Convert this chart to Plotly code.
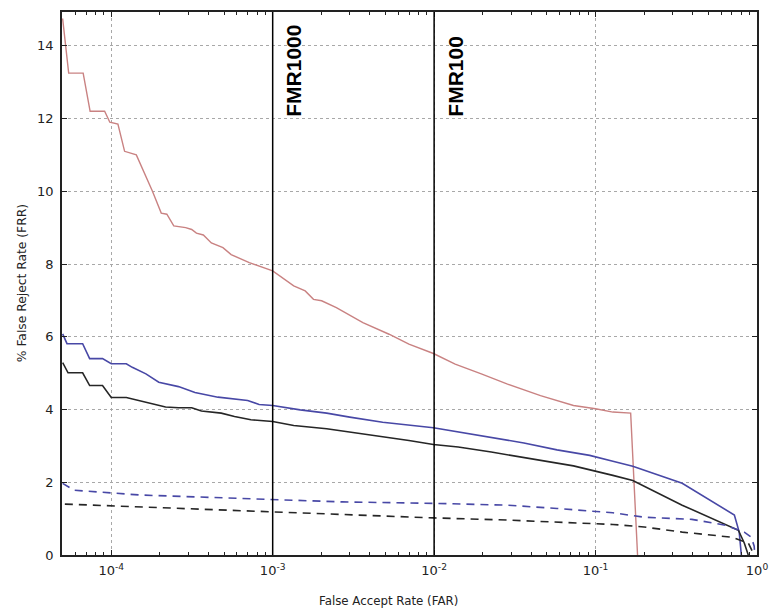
import math
import plotly.graph_objects as go

# ---- data ----
red_far = [5.0e-5, 5.45e-5, 6.7e-5, 7.4e-5, 9.1e-5, 9.8e-5, 1.1e-4, 1.21e-4, 1.43e-4, 1.8e-4,
           2.04e-4, 2.21e-4, 2.44e-4, 2.89e-4, 3.15e-4, 3.37e-4, 3.72e-4, 4.17e-4, 4.92e-4, 5.53e-4,
           7.16e-4, 1.0e-3, 1.35e-3, 1.59e-3, 1.79e-3, 2.01e-3, 2.48e-3, 3.62e-3, 5.26e-3, 6.98e-3,
           9.9e-3, 1.35e-2, 1.96e-2, 2.85e-2, 4.56e-2, 7.3e-2, 0.1, 0.128, 0.165, 0.182]
red_frr = [14.75, 13.25, 13.25, 12.2, 12.2, 11.9, 11.85, 11.1, 11.0, 10.0,
           9.4, 9.37, 9.05, 9.0, 8.95, 8.85, 8.8, 8.58, 8.45, 8.26,
           8.04, 7.81, 7.40, 7.26, 7.03, 6.99, 6.80, 6.39, 6.07, 5.80,
           5.54, 5.25, 4.98, 4.70, 4.38, 4.11, 4.02, 3.93, 3.90, 0.0]

blue_far = [5.0e-5, 5.32e-5, 6.65e-5, 7.35e-5, 8.83e-5, 1.0e-4, 1.24e-4, 1.35e-4, 1.64e-4, 1.97e-4,
            2.61e-4, 3.3e-4, 4.58e-4, 7.0e-4, 8.24e-4, 1.0e-3, 1.48e-3, 2.16e-3, 3.0e-3, 4.8e-3,
            9.9e-3, 1.79e-2, 3.6e-2, 5.77e-2, 9.2e-2, 0.128, 0.17, 0.344, 0.724, 0.776, 0.8]
blue_frr = [6.08, 5.81, 5.81, 5.40, 5.40, 5.26, 5.26, 5.16, 4.98, 4.75,
            4.63, 4.47, 4.34, 4.25, 4.14, 4.11, 3.99, 3.90, 3.79, 3.65,
            3.50, 3.31, 3.08, 2.89, 2.74, 2.58, 2.44, 1.97, 1.10, 0.63, 0.0]

black_far = [5.0e-5, 5.4e-5, 6.65e-5, 7.35e-5, 8.83e-5, 1.0e-4, 1.24e-4, 1.64e-4, 2.17e-4, 2.61e-4,
             3.15e-4, 3.62e-4, 4.8e-4, 5.8e-4, 7.33e-4, 1.0e-3, 1.35e-3, 2.16e-3, 4.37e-3, 6.98e-3,
             9.9e-3, 1.41e-2, 2.26e-2, 3.6e-2, 7.3e-2, 0.128, 0.17, 0.344, 0.767, 0.834, 0.883]
black_frr = [5.29, 5.01, 5.01, 4.66, 4.66, 4.33, 4.33, 4.19, 4.07, 4.05,
             4.05, 3.96, 3.90, 3.81, 3.72, 3.67, 3.56, 3.47, 3.29, 3.15,
             3.04, 2.97, 2.83, 2.68, 2.45, 2.19, 2.05, 1.37, 0.68, 0.33, 0.0]

blue_dash_far = [5.0e-5, 5.9e-5, 1.5e-4, 3.4e-4, 1.0e-3, 2.7e-3, 9.9e-3, 2.85e-2, 5.77e-2, 0.1,
                 0.128, 0.2, 0.395, 0.637, 0.834, 0.92, 0.96, 0.97]
blue_dash_frr = [1.97, 1.78, 1.65, 1.60, 1.53, 1.46, 1.42, 1.37, 1.28, 1.20,
                 1.16, 1.04, 0.98, 0.82, 0.63, 0.49, 0.25, 0.0]

black_dash_far = [5.16e-5, 3.4e-4, 1.0e-3, 2.7e-3, 9.9e-3, 2.85e-2, 0.128, 0.2, 0.344, 0.695,
                  0.883, 0.96]
black_dash_frr = [1.40, 1.26, 1.17, 1.10, 1.02, 0.96, 0.84, 0.77, 0.63, 0.49,
                  0.33, 0.0]

fmr_far = [1e-3, 1e-2]
fmr_labels = ["FMR1000", "FMR100"]

x_tickvals = [1e-4, 1e-3, 1e-2, 1e-1, 1]
x_ticktext = ["10<sup>-4</sup>", "10<sup>-3</sup>", "10<sup>-2</sup>", "10<sup>-1</sup>", "10<sup>0</sup>"]
y_tickvals = [0, 2, 4, 6, 8, 10, 12, 14]

RED = "#c98282"
BLUE = "#4848a6"
BLACK = "#262626"

fig = go.Figure()
fig.add_trace(go.Scatter(x=red_far, y=red_frr, mode="lines", line=dict(color=RED, width=1.4)))
fig.add_trace(go.Scatter(x=blue_far, y=blue_frr, mode="lines", line=dict(color=BLUE, width=1.6)))
fig.add_trace(go.Scatter(x=black_far, y=black_frr, mode="lines", line=dict(color=BLACK, width=1.6)))
fig.add_trace(go.Scatter(x=blue_dash_far, y=blue_dash_frr, mode="lines",
                         line=dict(color=BLUE, width=1.6, dash="8px,6px")))
fig.add_trace(go.Scatter(x=black_dash_far, y=black_dash_frr, mode="lines",
                         line=dict(color=BLACK, width=1.6, dash="8px,6px")))

for xv, lab in zip(fmr_far, fmr_labels):
    fig.add_shape(type="line", xref="x", yref="paper", x0=xv, x1=xv, y0=0, y1=1,
                  line=dict(color="black", width=1.5))
    # annotations on a log axis take log10 positions
    fig.add_annotation(x=math.log10(xv), y=12, xref="x", yref="y", text="<b>%s</b>" % lab,
                       textangle=-90, showarrow=False, xanchor="left", yanchor="bottom", xshift=7,
                       font=dict(family="Liberation Sans, Arial", size=21, color="black"))

minor_vals = [m * 10 ** e for e in range(-5, 0) for m in range(2, 10) if m * 10 ** e >= 5e-5]

fig.add_annotation(x=0.4695, y=-0.084, xref="paper", yref="paper", text="False Accept Rate (FAR)",
                   showarrow=False, xanchor="center", yanchor="middle",
                   font=dict(family="DejaVu Sans", size=11.8, color="#222"))
fig.add_annotation(x=-0.058, y=0.5, xref="paper", yref="paper", text="% False Reject Rate (FRR)",
                   showarrow=False, xanchor="center", yanchor="middle", textangle=-90,
                   font=dict(family="DejaVu Sans", size=12.3, color="#222"))

fig.update_layout(
    width=778, height=612,
    margin=dict(l=62, r=11, t=10, b=57),
    paper_bgcolor="white", plot_bgcolor="white",
    showlegend=False,
    font=dict(family="DejaVu Sans", size=13, color="#222"),
)
fig.update_xaxes(
    type="log", range=[-4.305, 0],
    tickmode="array", tickvals=x_tickvals, ticktext=x_ticktext,
    ticks="inside", ticklen=5, tickwidth=1, tickcolor="#222",
    showgrid=True, gridcolor="#a8a8a8", griddash="dot", gridwidth=1,
    showline=True, linecolor="#222", linewidth=1.5, mirror="allticks",
    minor=dict(tickmode="array", tickvals=minor_vals, ticks="inside", ticklen=3,
               tickcolor="#222", showgrid=False),
    zeroline=False, tickfont=dict(size=13), ticklabelstandoff=3,
)
fig.update_yaxes(
    range=[0, 14.93], tickmode="array", tickvals=y_tickvals,
    ticks="inside", ticklen=5, tickwidth=1, tickcolor="#222",
    showgrid=True, gridcolor="#a8a8a8", griddash="dot", gridwidth=1,
    showline=True, linecolor="#222", linewidth=1.5, mirror="allticks",
    zeroline=False, tickfont=dict(size=13), ticklabelstandoff=4,
)

fig.write_html("out.html")
